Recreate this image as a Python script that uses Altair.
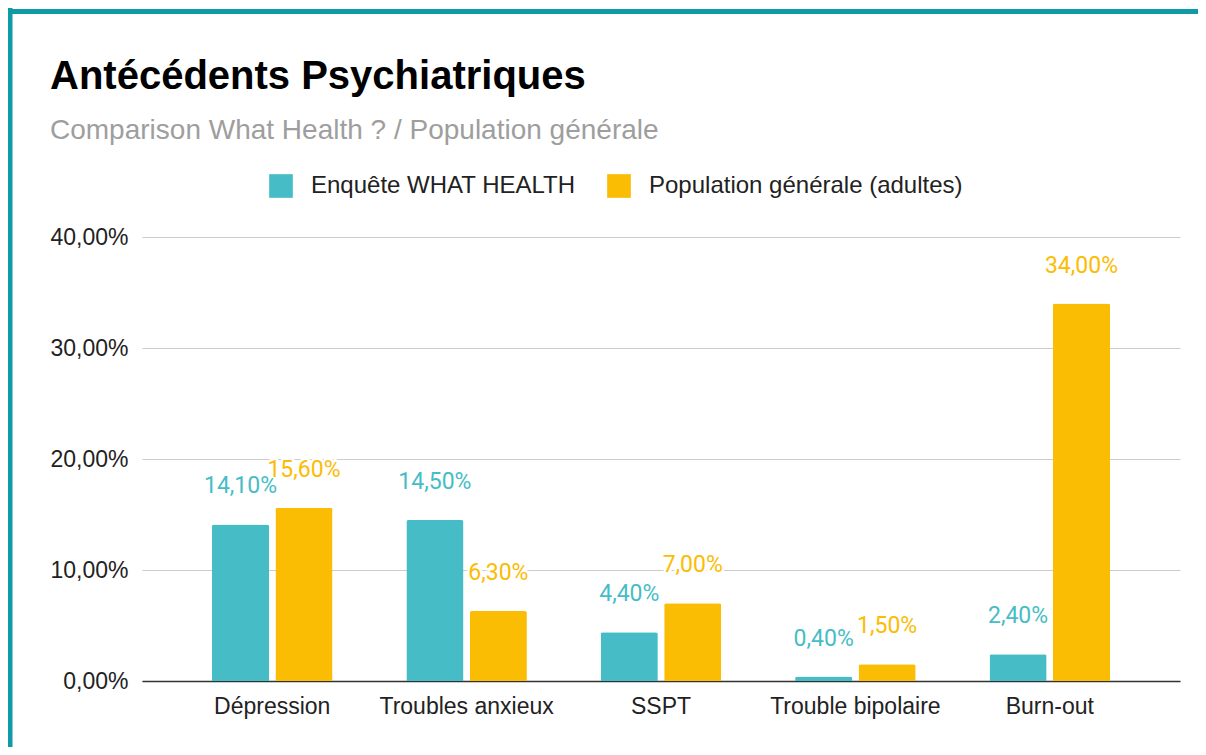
import altair as alt
import pandas as pd

categories = ["Dépression", "Troubles anxieux", "SSPT", "Trouble bipolaire", "Burn-out"]
series_names = ["Enquête WHAT HEALTH", "Population générale (adultes)"]
enquete = [0.141, 0.145, 0.044, 0.004, 0.024]
population = [0.156, 0.063, 0.070, 0.015, 0.340]
colors = ["#46BDC6", "#FBBC04"]
y_ticks = [0, 0.1, 0.2, 0.3, 0.4]

rows = []
for c, a, b in zip(categories, enquete, population):
    rows.append({"cat": c, "serie": series_names[0], "val": a})
    rows.append({"cat": c, "serie": series_names[1], "val": b})
df = pd.DataFrame(rows)

W, H = 1038, 444
FONT = "Liberation Sans"

x = alt.X("cat:N", sort=categories, title=None,
          scale=alt.Scale(paddingInner=0.38, paddingOuter=0.36),
          axis=alt.Axis(labelAngle=0, labelFont=FONT, labelFontSize=23, labelColor="#222",
                        labelPadding=14, ticks=False, domainColor="#333", domainWidth=1.5,
                        grid=False))
xo = alt.XOffset("serie:N", sort=series_names, scale=alt.Scale(paddingInner=0.1, paddingOuter=0))
y = alt.Y("val:Q", title=None,
          scale=alt.Scale(domain=[0, 0.4], nice=False),
          axis=alt.Axis(values=y_ticks, labelExpr="replace(format(datum.value, '.2%'), '.', ',')",
                        labelFont=FONT, labelFontSize=23, labelColor="#222", labelPadding=14,
                        ticks=False, domain=False, gridColor="#cccccc", gridWidth=1.2))
color = alt.Color("serie:N", sort=series_names,
                  scale=alt.Scale(domain=series_names, range=colors),
                  legend=alt.Legend(title=None, orient="none", direction="horizontal",
                                    legendX=127, legendY=-63, symbolType="square",
                                    symbolSize=560, symbolStrokeWidth=0, labelFont=FONT,
                                    labelFontSize=24, labelColor="#222", labelOffset=18,
                                    labelLimit=0, columnPadding=31, padding=0))

base = alt.Chart(df)

bars = base.mark_bar(cornerRadiusTopLeft=2, cornerRadiusTopRight=2).encode(
    x=x, xOffset=xo, y=y, color=color)

lab = base.transform_calculate(
    txt="replace(format(datum.val, '.2%'), '.', ',')"
)
halo = lab.mark_text(font="Roboto", fontSize=23, baseline="middle", dy=-38,
                     stroke="white", strokeWidth=5, fill="white").encode(
    x=alt.X("cat:N", sort=categories), xOffset=xo, y="val:Q", text="txt:N")
labels = lab.mark_text(font="Roboto", fontSize=23, baseline="middle", dy=-38).encode(
    x=alt.X("cat:N", sort=categories), xOffset=xo, y="val:Q", text="txt:N",
    color=alt.Color("serie:N", sort=series_names, scale=alt.Scale(domain=series_names, range=colors), legend=None))

border_df = pd.DataFrame({"k": [0]})
left_border = alt.Chart(border_df).mark_rule(color="#0E9AA7", strokeWidth=5).encode(
    x=alt.value(-132), y=alt.value(-230), y2=alt.value(520))
top_border = alt.Chart(border_df).mark_rule(color="#0E9AA7", strokeWidth=5).encode(
    x=alt.value(-134.5), x2=alt.value(1060), y=alt.value(-225.5))

chart = alt.layer(bars, halo, labels, left_border, top_border).properties(
    width=W, height=H,
    autosize=alt.AutoSizeParams(type="none"),
    padding={"left": 134, "top": 229, "right": 18, "bottom": 66},
    background="white",
    title=alt.TitleParams(
        text="Antécédents Psychiatriques",
        subtitle="Comparison What Health ? / Population générale",
        anchor="start", frame="group", dx=-92, dy=140, font=FONT, fontSize=40, fontWeight="bold",
        color="#000", subtitleFont=FONT, subtitleFontSize=28, subtitleColor="#9e9e9e",
        subtitlePadding=20, offset=0),
).configure_view(stroke=None)

chart.save("out.html", embed_options={"renderer": "svg", "actions": False})
